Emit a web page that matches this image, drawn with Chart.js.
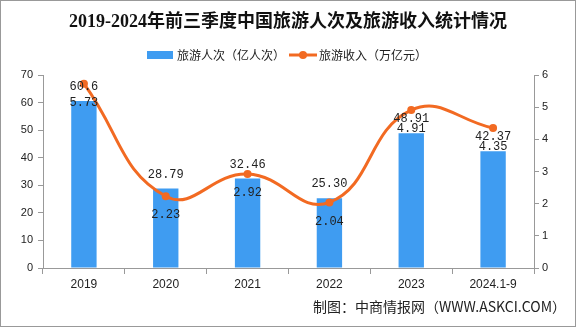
<!DOCTYPE html>
<html>
<head>
<meta charset="utf-8">
<script src="https://cdn.jsdelivr.net/npm/chart.js@4"></script>
<style>
  html, body { margin: 0; padding: 0; background: #fff; }
  #wrap { position: relative; width: 576px; height: 327px; }
</style>
</head>
<body>
<div id="wrap"><canvas id="c" width="576" height="327"></canvas></div>
<script>
const titleText = '2019-2024年前三季度中国旅游人次及旅游收入统计情况';
const sourceText = '制图：中商情报网（WWW.ASKCI.COM）';
const categories = ['2019', '2020', '2021', '2022', '2023', '2024.1-9'];
const visitorName = '旅游人次（亿人次）';
const revenueName = '旅游收入（万亿元）';
const visitors = [60.6, 28.79, 32.46, 25.30, 48.91, 42.37];
const visitorLabels = ['60.6', '28.79', '32.46', '25.30', '48.91', '42.37'];
const revenue = [5.73, 2.23, 2.92, 2.04, 4.91, 4.35];
const revenueLabels = ['5.73', '2.23', '2.92', '2.04', '4.91', '4.35'];
const leftTicks = [0, 10, 20, 30, 40, 50, 60, 70];
const rightTicks = [0, 1, 2, 3, 4, 5, 6];

const BLUE = '#3f9cf1';
const ORANGE = '#f26a22';
const CJK = '"Noto Sans CJK SC", "Noto Sans", sans-serif';

const decor = {
  id: 'decor',
  afterDatasetsDraw(chart) {
    const ctx = chart.ctx;
    ctx.save();
    ctx.fillStyle = '#222';
    ctx.font = '12px "Liberation Mono", "DejaVu Sans Mono", monospace';
    ctx.textAlign = 'center';
    ctx.textBaseline = 'middle';
    chart.getDatasetMeta(0).data.forEach((el, i) => {
      ctx.fillText(visitorLabels[i], el.x, el.y - 14);
    });
    chart.getDatasetMeta(1).data.forEach((el, i) => {
      ctx.fillText(revenueLabels[i], el.x, el.y + 19);
    });
    ctx.restore();
  },
  afterDraw(chart) {
    const ctx = chart.ctx;
    ctx.save();
    // title
    ctx.fillStyle = '#111';
    ctx.textAlign = 'center';
    ctx.textBaseline = 'middle';
    ctx.font = 'bold 18px "Liberation Serif", "Noto Sans CJK SC", serif';
    ctx.fillText(titleText, 288, 22);
    // legend
    ctx.font = '12px ' + CJK;
    ctx.textAlign = 'left';
    ctx.fillStyle = BLUE;
    ctx.fillRect(147, 51, 26, 8);
    ctx.fillStyle = '#222';
    ctx.fillText(visitorName, 177, 55);
    ctx.strokeStyle = ORANGE;
    ctx.lineWidth = 3;
    ctx.beginPath();
    ctx.moveTo(289, 55);
    ctx.lineTo(317, 55);
    ctx.stroke();
    ctx.fillStyle = ORANGE;
    ctx.beginPath();
    ctx.arc(303, 55, 4, 0, Math.PI * 2);
    ctx.fill();
    ctx.fillStyle = '#222';
    ctx.fillText(revenueName, 319, 55);
    // source
    ctx.font = '14px ' + CJK;
    ctx.textAlign = 'right';
    ctx.fillText(sourceText, 566, 307);
    // border
    ctx.strokeStyle = '#999';
    ctx.lineWidth = 1;
    ctx.strokeRect(0.5, 0.5, 575, 326);
    ctx.restore();
  }
};

const tickFont = { family: '"Liberation Sans", Arial, sans-serif', size: 11 };
const xTickFont = { family: '"Liberation Sans", Arial, sans-serif', size: 12 };

new Chart(document.getElementById('c'), {
  data: {
    labels: categories,
    datasets: [
      {
        type: 'bar',
        label: visitorName,
        data: visitors,
        backgroundColor: BLUE,
        yAxisID: 'y',
        barPercentage: 0.62,
        categoryPercentage: 0.5,
        order: 2
      },
      {
        type: 'line',
        label: revenueName,
        data: revenue,
        borderColor: ORANGE,
        backgroundColor: ORANGE,
        borderWidth: 3,
        pointRadius: 4,
        pointBackgroundColor: ORANGE,
        pointBorderWidth: 0,
        tension: 0.45,
        yAxisID: 'y1',
        order: 1
      }
    ]
  },
  options: {
    responsive: false,
    animation: false,
    devicePixelRatio: 1,
    layout: { padding: { top: 75, left: 0, right: 0, bottom: 0 } },
    plugins: {
      legend: { display: false },
      title: { display: false },
      tooltip: { enabled: false }
    },
    scales: {
      x: {
        grid: { display: true, drawOnChartArea: false, drawTicks: true, tickLength: 6, color: '#999', offset: true },
        border: { display: true, color: '#999' },
        ticks: { color: '#222', font: xTickFont, padding: 3, maxRotation: 0 },
        afterFit(s) { s.height = 59; }
      },
      y: {
        position: 'left',
        min: 0, max: 70,
        afterBuildTicks(s) { s.ticks = leftTicks.map(v => ({ value: v })); },
        grid: { display: true, drawOnChartArea: false, drawTicks: true, tickLength: 5, color: '#999' },
        border: { display: true, color: '#999' },
        ticks: { color: '#222', font: tickFont, padding: 5 },
        afterFit(s) { s.width = 43; }
      },
      y1: {
        position: 'right',
        min: 0, max: 6,
        afterBuildTicks(s) { s.ticks = rightTicks.map(v => ({ value: v })); },
        grid: { display: true, drawOnChartArea: false, drawTicks: true, tickLength: 5, color: '#999' },
        border: { display: true, color: '#999' },
        ticks: { color: '#222', font: tickFont, padding: 3 },
        afterFit(s) { s.width = 42; }
      }
    }
  },
  plugins: [decor]
});
</script>
</body>
</html>
